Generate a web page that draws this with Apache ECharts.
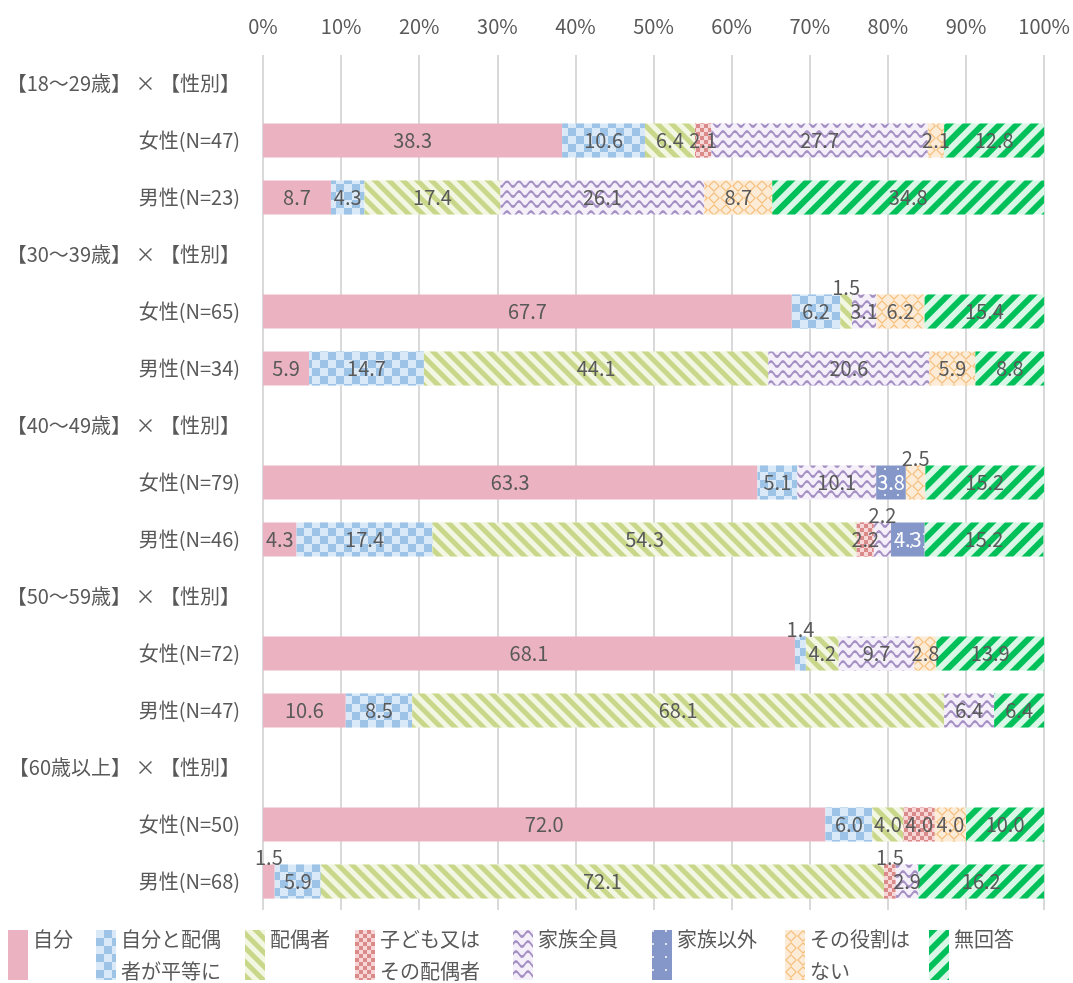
<!DOCTYPE html>
<html>
<head>
<meta charset="utf-8">
<script src="https://cdn.jsdelivr.net/npm/echarts@6/dist/echarts.min.js"></script>
<style>
  html, body { margin: 0; padding: 0; background: #fff; }
  #chart { width: 1073px; height: 983px; }
</style>
</head>
<body>
<div id="chart"></div>
<script>
// 行（上から順）
const categories = [
  '【18～29歳】 × 【性別】', '女性(N=47)', '男性(N=23)',
  '【30～39歳】 × 【性別】', '女性(N=65)', '男性(N=34)',
  '【40～49歳】 × 【性別】', '女性(N=79)', '男性(N=46)',
  '【50～59歳】 × 【性別】', '女性(N=72)', '男性(N=47)',
  '【60歳以上】 × 【性別】', '女性(N=50)', '男性(N=68)'
]
const seriesNames = ['自分', '自分と配偶者が平等に', '配偶者', '子ども又はその配偶者', '家族全員', '家族以外', 'その役割はない', '無回答']
const legendTexts = ['自分\n ', '自分と配偶\n者が平等に', '配偶者\n ', '子ども又は\nその配偶者', '家族全員\n ', '家族以外\n ', 'その役割は\nない', '無回答\n ']
const xTicks = [0, 10, 20, 30, 40, 50, 60, 70, 80, 90, 100]

// 各回答の割合(%)  見出し行は null
const jibun     = [null, 38.3, 8.7, null, 67.7, 5.9, null, 63.3, 4.3, null, 68.1, 10.6, null, 72.0, 1.5]
const byodo     = [null, 10.6, 4.3, null, 6.2, 14.7, null, 5.1, 17.4, null, 1.4, 8.5, null, 6.0, 5.9]
const haigusha  = [null, 6.4, 17.4, null, 1.5, 44.1, null, 0, 54.3, null, 4.2, 68.1, null, 4.0, 72.1]
const kodomo    = [null, 2.1, 0, null, 0, 0, null, 0, 2.2, null, 0, 0, null, 4.0, 1.5]
const kazoku    = [null, 27.7, 26.1, null, 3.1, 20.6, null, 10.1, 2.2, null, 9.7, 6.4, null, 0, 2.9]
const kazokuIgai = [null, 0, 0, null, 0, 0, null, 3.8, 4.3, null, 0, 0, null, 0, 0]
const yakuwari  = [null, 2.1, 8.7, null, 6.2, 5.9, null, 2.5, 0, null, 2.8, 0, null, 4.0, 0]
const mukaito   = [null, 12.8, 34.8, null, 15.4, 8.8, null, 15.2, 15.2, null, 13.9, 6.4, null, 10.0, 16.2]
const values = [jibun, byodo, haigusha, kodomo, kazoku, kazokuIgai, yakuwari, mukaito]

// 棒の上に出すラベル [系列, 行]
const raisedLabels = [[2, 4], [6, 7], [4, 8], [1, 10], [0, 14], [3, 14]]

const FONT = 'Noto Sans CJK JP'
const TEXT = '#595959'

const styles = [
  { color: '#EBB3C1' },
  { color: '#DAE9F7', decal: { symbol: 'rect', symbolSize: 1, color: '#9DC3E6', dashArrayX: [[8, 8], [0, 8, 8, 0]], dashArrayY: [8, 0] } },
  { color: '#F2F6E2', decal: { symbol: 'rect', symbolSize: 1, color: '#C9D78A', dashArrayX: [1, 0], dashArrayY: [5, 5], rotation: Math.PI / 4 } },
  { color: '#F6D6D6', decal: { symbol: 'rect', symbolSize: 1, color: '#DB8A8A', dashArrayX: [[4, 4], [0, 4, 4, 0]], dashArrayY: [4, 0] } },
  { color: '#F4EFF9', decal: { symbol: 'path://M0,3 Q2.5,0 5,3 Q7.5,6 10,3 L10,4.6 Q7.5,7.6 5,4.6 Q2.5,1.6 0,4.6 Z', symbolSize: 1, symbolKeepAspect: false, color: '#A590C4', dashArrayX: [12, 0], dashArrayY: [8, 2] } },
  { color: '#8497C8', decal: { symbol: 'circle', symbolSize: 1, color: '#FFFFFF', dashArrayX: [2, 11], dashArrayY: [2, 11] } },
  { color: '#FCEBD6', decal: { symbol: 'path://M5,0 L10,5 L5,10 L0,5 Z M5,1.4 L1.4,5 L5,8.6 L8.6,5 Z', symbolSize: 1, symbolKeepAspect: false, color: '#F5C07F', dashArrayX: [12, 0], dashArrayY: [12, 0] } },
  { color: '#D9F6E6', decal: { symbol: 'rect', symbolSize: 1, color: '#00C05A', dashArrayX: [1, 0], dashArrayY: [6, 6], rotation: -Math.PI / 4 } }
]

const series = values.map((arr, si) => ({
  name: seriesNames[si],
  type: 'bar',
  stack: 'total',
  barWidth: '60%',
  itemStyle: styles[si],
  label: {
    show: true,
    position: 'inside',
    fontFamily: FONT,
    fontSize: 20,
    color: si === 5 ? '#FFFFFF' : TEXT,
    formatter: p => (p.value ? Number(p.value).toFixed(1) : '')
  },
  data: arr.map((v, ri) => {
    const up = raisedLabels.some(r => r[0] === si && r[1] === ri)
    if (!up) return v
    return { value: v, label: { position: 'top', distance: -3 } }
  })
}))

// 凡例は項目ごとに置く
const legendLeft = [8, 96, 245, 355, 513, 652, 785, 929]
const legends = seriesNames.map((n, i) => ({
  data: [n],
  left: legendLeft[i],
  top: 923,
  padding: 0,
  orient: 'vertical',
  icon: 'rect',
  itemWidth: 20,
  itemHeight: 50,
  itemGap: 0,
  selectedMode: false,
  formatter: () => legendTexts[i],
  textStyle: { fontFamily: FONT, fontSize: 20, color: TEXT, lineHeight: 32, padding: [0, 0, 0, 0] }
}))

const option = {
  animation: false,
  textStyle: { fontFamily: FONT },
  grid: { left: 263, right: 28, top: 55, bottom: 73 },
  legend: legends,
  xAxis: {
    type: 'value',
    position: 'top',
    min: xTicks[0],
    max: xTicks[xTicks.length - 1],
    interval: 10,
    axisLine: { show: false },
    axisTick: { show: false },
    axisLabel: { formatter: '{value}%', fontFamily: FONT, fontSize: 20, color: TEXT, margin: 19 },
    splitLine: { lineStyle: { color: '#D9D9D9', width: 2 } }
  },
  yAxis: {
    type: 'category',
    inverse: true,
    data: categories,
    axisLine: { show: false },
    axisTick: { show: false },
    axisLabel: { fontFamily: FONT, fontSize: 20, color: TEXT, margin: 23 }
  },
  series: series
}

const myChart = echarts.init(document.getElementById('chart'))
myChart.setOption(option)
</script>
</body>
</html>
